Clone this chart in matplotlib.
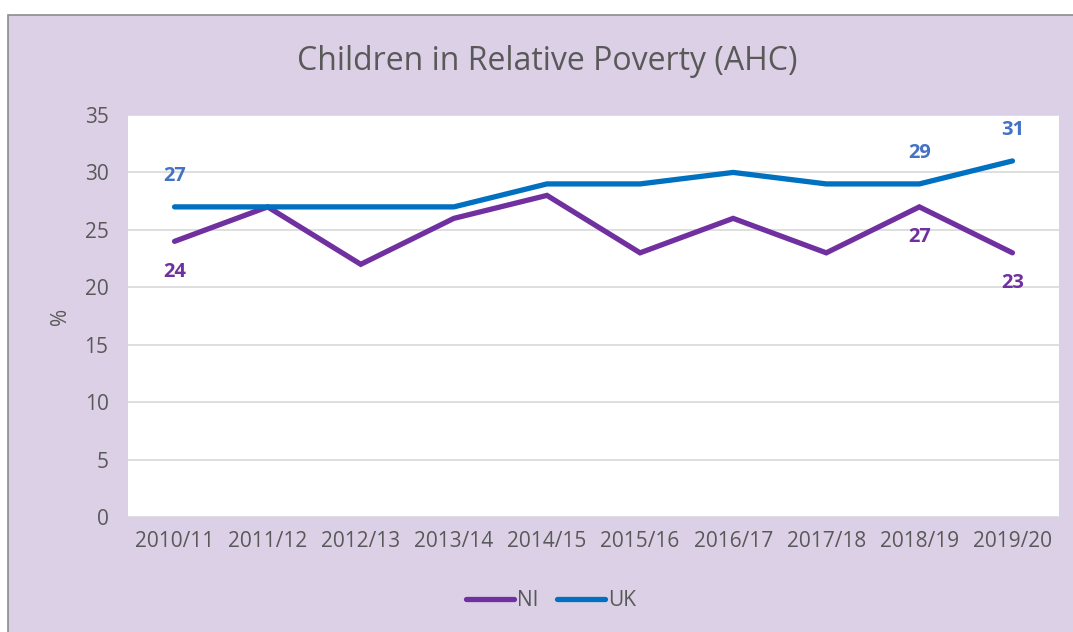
import matplotlib.pyplot as plt
from matplotlib.patches import Rectangle

# Child poverty rates, after housing costs
years = ['2010/11', '2011/12', '2012/13', '2013/14', '2014/15',
         '2015/16', '2016/17', '2017/18', '2018/19', '2019/20']
ni = [24, 27, 22, 26, 28, 23, 26, 23, 27, 23]
uk = [27, 27, 27, 27, 29, 29, 30, 29, 29, 31]

# indices of the points that carry a value label
ni_labelled = [0, 8, 9]
uk_labelled = [0, 8, 9]

bg = '#dcd0e6'
txt = '#595959'
ni_col = '#7030a0'
uk_col = '#0070c0'
uk_lab = '#4472c4'

plt.rcParams['font.family'] = ['Open Sans', 'DejaVu Sans']

W, H = 1073, 632
fig = plt.figure(figsize=(W / 100, H / 100), dpi=100)
fig.patch.set_facecolor('white')
# lilac chart frame, running off the right and bottom edges
fig.patches.append(Rectangle((8 / W, -0.1), 1.1, 1.1 - 15 / H, transform=fig.transFigure,
                             facecolor=bg, edgecolor='#8c8c8c', lw=1.2, zorder=-10))

ax = fig.add_axes([128 / W, 1 - 517 / H, (1059 - 128) / W, (517 - 115) / H])
ax.set_facecolor('white')

x = range(len(years))
ax.plot(x, ni, color=ni_col, lw=3.8, solid_capstyle='round', solid_joinstyle='miter', label='NI', zorder=3)
ax.plot(x, uk, color=uk_col, lw=3.8, solid_capstyle='round', solid_joinstyle='miter', label='UK', zorder=3)

for i in ni_labelled:
    ax.annotate(str(ni[i]), (i, ni[i]), xytext=(0, -22), textcoords='offset points',
                ha='center', va='center', color=ni_col, fontsize=14.5, fontweight='bold')
for i in uk_labelled:
    ax.annotate(str(uk[i]), (i, uk[i]), xytext=(0, 22), textcoords='offset points',
                ha='center', va='center', color=uk_lab, fontsize=14.5, fontweight='bold')

ax.set_xlim(-0.5, len(years) - 0.5)
ax.set_ylim(0, 35)
ax.set_yticks(range(0, 36, 5))
ax.set_xticks(list(x))
ax.set_xticklabels(years)
ax.grid(axis='y', color='#d9d9d9', lw=1.2)
ax.set_axisbelow(True)
for s in ax.spines.values():
    s.set_visible(False)
ax.tick_params(length=0, labelsize=15, labelcolor=txt)
ax.tick_params(axis='y', pad=14)
ax.tick_params(axis='x', pad=10)
ax.set_ylabel('%', color=txt, fontsize=15, labelpad=10)

fig.text(547 / W, 1 - 62 / H, 'Children in Relative Poverty (AHC)', ha='center', va='center',
         color=txt, fontsize=23)

fig.legend(loc='center', bbox_to_anchor=(551 / W, 1 - 601 / H), ncol=2, frameon=False,
           fontsize=15, labelcolor=txt, handlelength=2.3, handletextpad=0.15, columnspacing=0.9)

fig.savefig('out.png', dpi=100, facecolor=fig.get_facecolor())
